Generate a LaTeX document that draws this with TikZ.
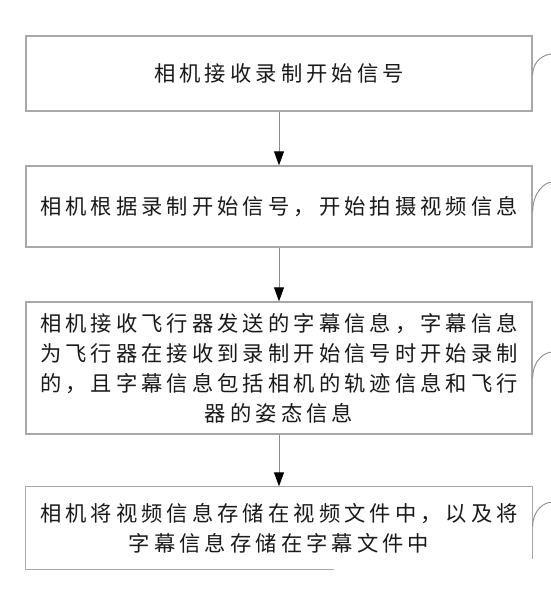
\documentclass[tikz,border=0pt]{standalone}
\usepackage{fontspec}
\newfontfamily\cjk[LetterSpace=19]{Noto Sans CJK SC}
\usetikzlibrary{arrows.meta}
\definecolor{boxgray}{HTML}{A8A8A8}
\definecolor{linegray}{HTML}{8C8C8C}
\begin{document}
\begin{tikzpicture}[x=1pt,y=-1pt,
  box/.style={draw=boxgray, line width=1.4pt, minimum width=506pt, align=center,
    inner sep=0pt, font=\cjk\fontsize{21.3}{30}\selectfont, text=black!90},
  flow/.style={draw=linegray, line width=1pt,
    -{Triangle[length=14pt,width=10pt,color=black]}},
  lead/.style={draw=linegray, line width=0.9pt}]
\useasboundingbox (0,0) rectangle (550,596);
\node[box, minimum height=75pt] (s1) at (279,73.5) {相机接收录制开始信号};
\node[box, minimum height=81pt] (s2) at (279,206.5) {相机根据录制开始信号，开始拍摄视频信息};
\node[box, minimum height=132pt] (s3) at (279,368) {相机接收飞行器发送的字幕信息，字幕信息\\为飞行器在接收到录制开始信号时开始录制\\的，且字幕信息包括相机的轨迹信息和飞行\\器的姿态信息};
\node[box, draw=none, minimum height=82pt] (s4) at (279,528) {相机将视频信息存储在视频文件中，以及将\\字幕信息存储在字幕文件中};
% box 4 border (lower right part hidden in the reference)
\draw[boxgray, line width=1.4pt] ([xshift=-199pt]s4.south east) -- (s4.south west) -- (s4.north west) -- (s4.north east) -- ([yshift=-73pt]s4.north east);
% connectors
\draw[flow] (s1) -- (s2);
\draw[flow] (s2) -- (s3);
\draw[flow] (s3) -- (s4);
% leader curves toward (cut-off) step labels
\draw[lead] ([yshift=-1.5pt]s1.east) .. controls +(0,-15) and +(-8,0) .. +(20,-21);
\draw[lead] ([yshift=-5.5pt]s2.east) .. controls +(0,-20) and +(-8,0) .. +(20,-30);
\draw[lead] ([yshift=-10pt]s3.east) .. controls +(0,-18) and +(-8,0) .. +(20,-26);
\draw[lead] ([yshift=1pt]s4.east) .. controls +(0,-18) and +(-8,0) .. +(20,-25);
\end{tikzpicture}
\end{document}
